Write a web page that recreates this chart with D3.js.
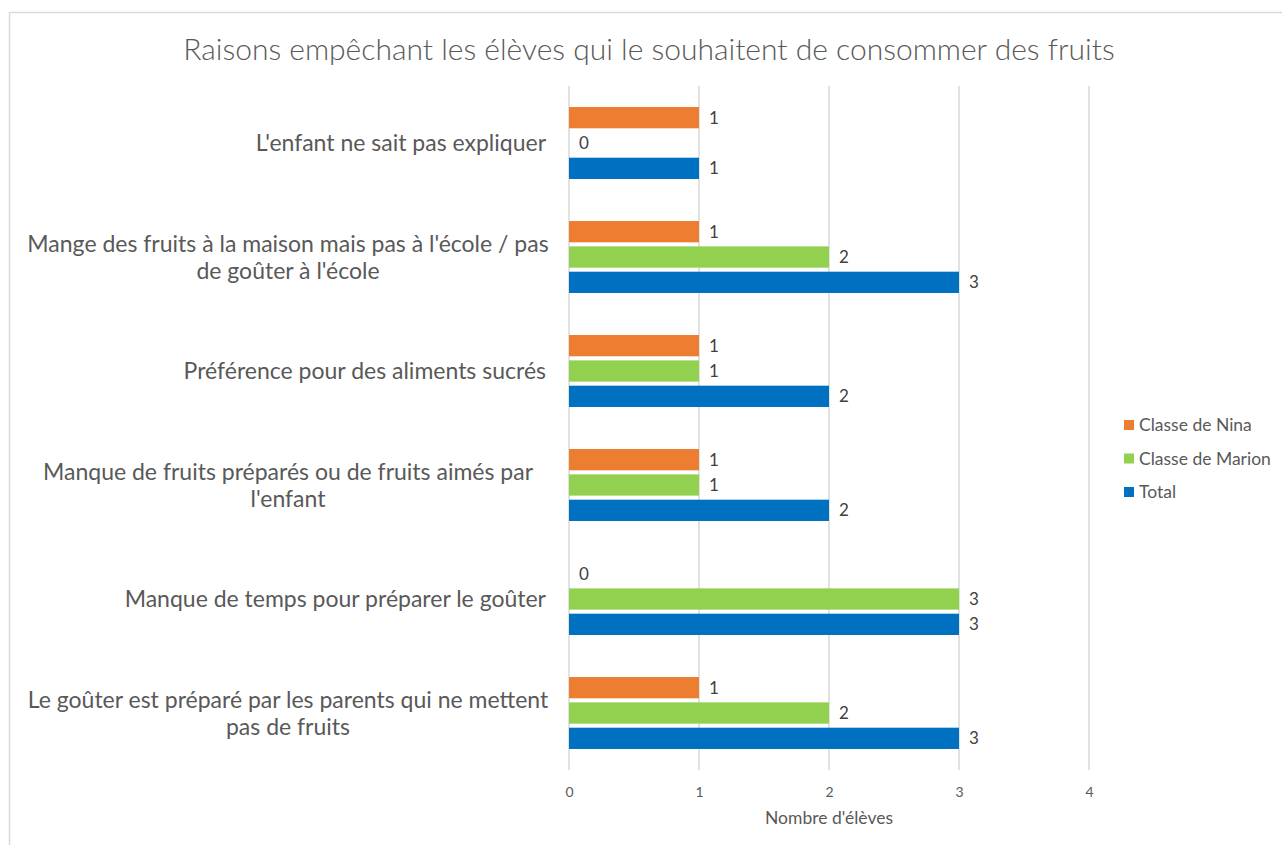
<!DOCTYPE html>
<html>
<head>
<meta charset="utf-8">
<script src="https://cdn.jsdelivr.net/npm/d3@7"></script>
<style>
  html, body { margin: 0; padding: 0; background: #fff; }
  text { font-family: Lato, "Open Sans", sans-serif; }
</style>
</head>
<body>
<svg id="chart" width="1282" height="845"></svg>
<script>
const title = "Raisons empêchant les élèves qui le souhaitent de consommer des fruits";
const categories = [
  ["L'enfant ne sait pas expliquer"],
  ["Mange des fruits à la maison mais pas à l'école / pas", "de goûter à l'école"],
  ["Préférence pour des aliments sucrés"],
  ["Manque de fruits préparés ou de fruits aimés par", "l'enfant"],
  ["Manque de temps pour préparer le goûter"],
  ["Le goûter est préparé par les parents qui ne mettent", "pas de fruits"]
];
const seriesNames = ["Classe de Nina", "Classe de Marion", "Total"];
const seriesColors = ["#ED7D31", "#92D050", "#0070C0"];
const nina   = [1, 1, 1, 1, 0, 1];
const marion = [0, 2, 1, 1, 3, 2];
const total  = [1, 3, 2, 2, 3, 3];
const xTicks = [0, 1, 2, 3, 4];
const xTitle = "Nombre d'élèves";

const seriesValues = [nina, marion, total];
const svg = d3.select("#chart");

// chart frame
svg.append("path").attr("d", "M9.5,845 L9.5,12.5 L1282,12.5")
  .attr("fill", "none").attr("stroke", "#d9d9d9").attr("stroke-width", 1.5);

const plot = { left: 569, right: 1089, top: 86, bottom: 770 };
const x = d3.scaleLinear().domain([0, 4]).range([plot.left, plot.right]);
const catIdx = categories.map((c, i) => i);
const y0 = d3.scaleBand().domain(catIdx).range([plot.top, plot.bottom])
  .paddingInner(1/3).paddingOuter(1/6);
const y1 = d3.scaleBand().domain([0, 1, 2]).range([0, y0.bandwidth()])
  .paddingInner(0.16).paddingOuter(0.08);

// title
svg.append("text").attr("x", 649).attr("y", 60).attr("text-anchor", "middle")
  .attr("fill", "#595959").style("font-size", "30px").style("font-weight", 300)
  .text(title);

// gridlines
svg.append("g").selectAll("line").data(xTicks).join("line")
  .attr("x1", d => x(d)).attr("x2", d => x(d))
  .attr("y1", plot.top).attr("y2", plot.bottom)
  .attr("stroke", "#d9d9d9").attr("stroke-width", 1.5);

// x axis
const xAxis = d3.axisBottom(x).tickValues(xTicks).tickSize(0).tickPadding(0).tickFormat(d3.format("d"));
const gx = svg.append("g").attr("transform", `translate(0,${plot.bottom + 27})`).call(xAxis);
gx.select(".domain").remove();
gx.selectAll("text").attr("fill", "#595959").style("font-size", "14px")
  .style("font-family", "Lato, 'Open Sans', sans-serif").attr("dy", "0");

svg.append("text").attr("x", x(2)).attr("y", 824).attr("text-anchor", "middle")
  .attr("fill", "#595959").style("font-size", "17.5px").text(xTitle);

// category labels
const lineH = 27;
svg.append("g").selectAll("text").data(categories).join("text")
  .attr("fill", "#595959").style("font-size", "23px")
  .each(function(lines, i) {
    const t = d3.select(this);
    const cy = y0(i) + y0.bandwidth() / 2;
    const n = lines.length;
    const multi = n > 1;
    t.attr("text-anchor", multi ? "middle" : "end");
    lines.forEach((ln, k) => {
      t.append("tspan")
        .attr("x", multi ? 288 : plot.left - 23)
        .attr("y", cy + (k - (n - 1) / 2) * lineH + 8)
        .text(ln);
    });
  });

// bars
const groups = svg.append("g").selectAll("g").data(catIdx).join("g")
  .attr("transform", i => `translate(0,${y0(i)})`);
groups.selectAll("rect").data(i => seriesValues.map((s, k) => ({ k, v: s[i] }))).join("rect")
  .attr("x", x(0))
  .attr("y", d => y1(d.k))
  .attr("width", d => x(d.v) - x(0))
  .attr("height", y1.bandwidth())
  .attr("fill", d => seriesColors[d.k]);
groups.selectAll("text").data(i => seriesValues.map((s, k) => ({ k, v: s[i] }))).join("text")
  .attr("x", d => x(d.v) + 10)
  .attr("y", d => y1(d.k) + y1.bandwidth() / 2 + 6)
  .attr("fill", "#404040").style("font-size", "17px")
  .text(d => d.v);

// legend
const leg = svg.append("g").selectAll("g").data(seriesNames).join("g")
  .attr("transform", (d, i) => `translate(1124,${425 + i * 33.5})`);
leg.append("rect").attr("x", 0).attr("y", -5).attr("width", 10).attr("height", 10)
  .attr("fill", (d, i) => seriesColors[i]);
leg.append("text").attr("x", 15).attr("y", 6).attr("fill", "#595959")
  .style("font-size", "17.5px").text(d => d);
</script>
</body>
</html>
